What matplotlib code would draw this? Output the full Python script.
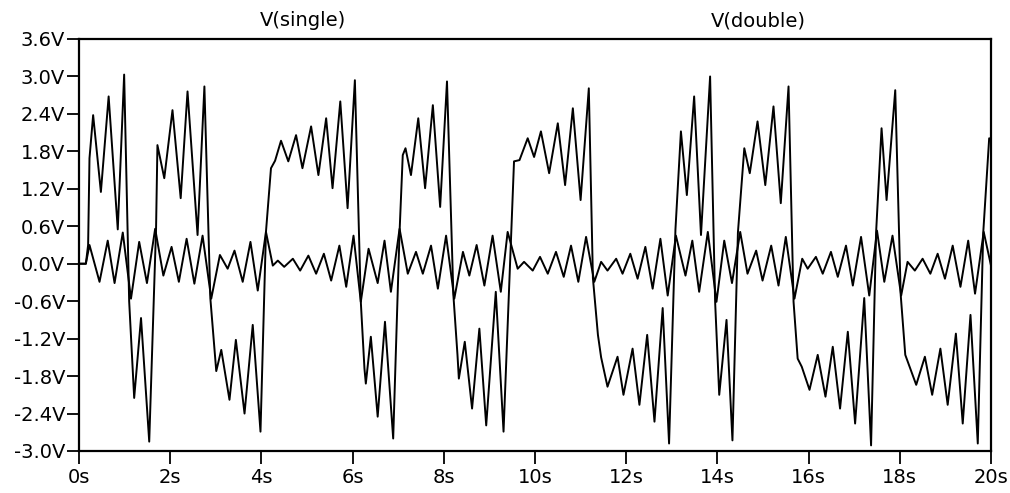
import matplotlib
matplotlib.use("Agg")
import matplotlib.pyplot as plt

# trace names shown above the plot
TRACE_LABELS = ["V(single)", "V(double)"]

# large square-ish trace with ringing (peaks / troughs)
large_t = [0.0, 0.15, 0.20, 0.23, 0.31, 0.48, 0.65, 0.85, 0.99, 1.10, 1.21, 1.36, 1.54,
           1.69, 1.72, 1.87, 2.05, 2.23, 2.38, 2.60, 2.75, 2.88, 3.01, 3.12, 3.30, 3.44,
           3.63, 3.81, 3.98, 4.10, 4.21, 4.30, 4.43, 4.59, 4.76, 4.90, 5.09, 5.25, 5.42,
           5.56, 5.73, 5.89, 6.05, 6.18, 6.26, 6.29, 6.40, 6.55, 6.71, 6.89, 7.03, 7.10,
           7.16, 7.28, 7.44, 7.59, 7.76, 7.92, 8.07, 8.21, 8.30, 8.33, 8.46, 8.62, 8.78,
           8.93, 9.14, 9.31, 9.48, 9.54, 9.66, 9.84, 9.98, 10.13, 10.31, 10.50, 10.66,
           10.83, 11.00, 11.18, 11.27, 11.38, 11.45, 11.59, 11.81, 11.94, 12.14, 12.29,
           12.46, 12.62, 12.80, 12.94, 13.08, 13.20, 13.33, 13.49, 13.64, 13.84, 13.95,
           14.04, 14.20, 14.33, 14.45, 14.59, 14.71, 14.88, 15.05, 15.23, 15.39, 15.56,
           15.67, 15.76, 15.85, 16.02, 16.20, 16.37, 16.53, 16.69, 16.86, 17.02, 17.22,
           17.37, 17.48, 17.60, 17.71, 17.90, 18.02, 18.12, 18.36, 18.55, 18.71, 18.89,
           19.05, 19.23, 19.38, 19.55, 19.71, 19.83, 19.96, 20.0]
large_v = [0.0, 0.0, 0.30, 1.69, 2.38, 1.15, 2.68, 0.55, 3.03, -0.60, -2.15, -0.87, -2.85,
           0.57, 1.90, 1.37, 2.46, 1.05, 2.76, 0.46, 2.84, -0.55, -1.72, -1.38, -2.18, -1.22,
           -2.40, -0.98, -2.69, 0.51, 1.53, 1.65, 1.97, 1.64, 2.06, 1.53, 2.20, 1.42, 2.33,
           1.21, 2.60, 0.89, 2.94, -0.61, -1.68, -1.92, -1.17, -2.45, -0.93, -2.80, 0.51, 1.74,
           1.85, 1.42, 2.33, 1.21, 2.54, 0.91, 2.92, -0.50, -1.46, -1.84, -1.25, -2.32, -1.04,
           -2.59, -0.45, -2.69, 0.50, 1.64, 1.66, 2.01, 1.71, 2.12, 1.45, 2.25, 1.26,
           2.49, 1.02, 2.81, -0.23, -1.14, -1.50, -1.97, -1.49, -2.10, -1.36, -2.26,
           -1.14, -2.53, -0.71, -2.88, 0.55, 2.12, 1.10, 2.68, 0.46, 3.00, -0.61,
           -2.10, -0.90, -2.83, 0.50, 1.85, 1.45, 2.28, 1.26, 2.52, 0.97, 2.84,
           -0.61, -1.52, -1.65, -2.02, -1.46, -2.13, -1.33, -2.32, -1.09, -2.56, -0.55,
           -2.91, 0.50, 2.17, 1.02, 2.78, -0.50, -1.46, -1.94, -1.49, -2.10, -1.36,
           -2.26, -1.12, -2.56, -0.82, -2.88, 0.50, 2.01, 2.00]

# small trace wobbling around zero
small_t = [0.0, 0.15, 0.23, 0.45, 0.63, 0.78, 0.96, 1.14, 1.32, 1.49, 1.67, 1.85, 2.03,
           2.19, 2.36, 2.53, 2.71, 2.90, 3.09, 3.26, 3.41, 3.59, 3.76, 3.92, 4.10, 4.25,
           4.36, 4.50, 4.69, 4.85, 5.03, 5.20, 5.37, 5.53, 5.71, 5.86, 6.02, 6.18, 6.35,
           6.55, 6.70, 6.84, 7.03, 7.21, 7.39, 7.54, 7.72, 7.87, 8.05, 8.23, 8.42, 8.56,
           8.72, 8.89, 9.07, 9.25, 9.40, 9.62, 9.76, 9.95, 10.11, 10.28, 10.46, 10.63,
           10.79, 10.95, 11.12, 11.30, 11.45, 11.59, 11.78, 11.92, 12.09, 12.25, 12.42,
           12.58, 12.75, 12.91, 13.09, 13.30, 13.45, 13.60, 13.79, 13.98, 14.15, 14.32,
           14.50, 14.66, 14.85, 14.99, 15.18, 15.34, 15.50, 15.69, 15.86, 15.98, 16.16,
           16.31, 16.49, 16.64, 16.82, 16.97, 17.15, 17.33, 17.50, 17.66, 17.84, 18.03,
           18.17, 18.33, 18.50, 18.67, 18.83, 18.99, 19.16, 19.33, 19.50, 19.65, 19.84, 20.0]
small_v = [0.0, 0.0, 0.30, -0.29, 0.37, -0.31, 0.50, -0.56, 0.35, -0.31, 0.56, -0.19, 0.27,
           -0.29, 0.40, -0.32, 0.45, -0.56, 0.14, -0.08, 0.21, -0.29, 0.35, -0.43, 0.51, -0.03,
           0.05, -0.05, 0.08, -0.11, 0.13, -0.16, 0.16, -0.27, 0.29, -0.37, 0.45, -0.61, 0.24,
           -0.31, 0.37, -0.45, 0.56, -0.16, 0.19, -0.16, 0.29, -0.40, 0.45, -0.56, 0.19, -0.19,
           0.30, -0.35, 0.45, -0.45, 0.51, -0.08, 0.03, -0.11, 0.11, -0.16, 0.19, -0.21,
           0.29, -0.29, 0.43, -0.29, 0.03, -0.11, 0.08, -0.16, 0.16, -0.24, 0.27,
           -0.40, 0.40, -0.51, 0.45, -0.19, 0.37, -0.45, 0.51, -0.61, 0.37, -0.31,
           0.51, -0.16, 0.21, -0.27, 0.29, -0.35, 0.43, -0.56, 0.08, -0.08, 0.11,
           -0.16, 0.19, -0.21, 0.29, -0.35, 0.43, -0.51, 0.53, -0.29, 0.45, -0.51,
           0.03, -0.11, 0.08, -0.16, 0.16, -0.24, 0.29, -0.37, 0.37, -0.48, 0.51, -0.03]

y_ticks = [-3.0, -2.4, -1.8, -1.2, -0.6, 0.0, 0.6, 1.2, 1.8, 2.4, 3.0, 3.6]
x_ticks = [0, 2, 4, 6, 8, 10, 12, 14, 16, 18, 20]

plt.rcParams.update({"font.family": "DejaVu Sans", "font.size": 14})

fig = plt.figure(figsize=(10.1, 4.93), dpi=100)
ax = fig.add_axes([79 / 1010, 1 - 451 / 493, 912 / 1010, 412 / 493])

ax.plot(small_t, small_v, color="black", lw=1.4)
ax.plot(large_t, large_v, color="black", lw=1.4)

ax.set_xlim(0, 20)
ax.set_ylim(-3.0, 3.6)
ax.set_yticks(y_ticks)
ax.set_yticklabels([f"{v:.1f}V" for v in y_ticks])
ax.set_xticks(x_ticks)
ax.set_xticklabels([f"{v}s" for v in x_ticks])
ax.tick_params(direction="out", length=9, width=1.3, pad=1, colors="black")
ax.tick_params(axis="x", pad=3)
for s in ax.spines.values():
    s.set_linewidth(1.6)
    s.set_color("black")

fig.text(303 / 1010, 1 - 21 / 493, TRACE_LABELS[0], ha="center", va="center", fontsize=14)
fig.text(758 / 1010, 1 - 21 / 493, TRACE_LABELS[1], ha="center", va="center", fontsize=14)

fig.savefig("out.png", dpi=100, facecolor="white")
